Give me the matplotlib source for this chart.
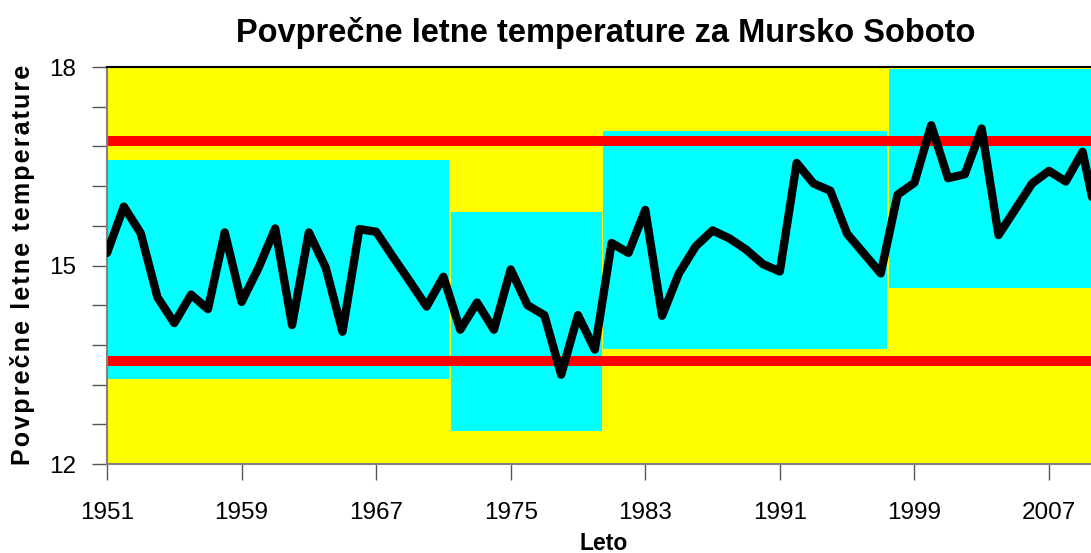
import matplotlib
matplotlib.use("Agg")
import matplotlib.pyplot as plt
from matplotlib.patches import Rectangle

plt.rcParams['font.family'] = ['Liberation Sans', 'DejaVu Sans']

# letne povprečne temperature (odčitano s slike)
years = list(range(1951, 2011))
temps = [15.19, 15.89, 15.49, 14.52, 14.13, 14.56, 14.34, 15.50, 14.45, 14.96,
         15.56, 14.10, 15.50, 14.97, 14.00, 15.55, 15.51, 15.13, 14.76, 14.38,
         14.83, 14.03, 14.44, 14.03, 14.94, 14.40, 14.25, 13.35, 14.25, 13.73,
         15.34, 15.19, 15.84, 14.24, 14.88, 15.29, 15.53, 15.41, 15.24, 15.02,
         14.91, 16.55, 16.24, 16.13, 15.48, 15.18, 14.88, 16.07, 16.25, 17.12,
         16.32, 16.38, 17.07, 15.46, 15.85, 16.24, 16.43, 16.27, 16.72, 15.50]

# obdobja (modri pravokotniki)
period_start = [1951.0, 1971.43, 1980.5, 1997.5]
period_end = [1971.33, 1980.41, 1997.4, 2010.0]
period_low = [13.28, 12.50, 13.74, 14.66]
period_high = [16.60, 15.81, 17.03, 17.97]

# meji (rdeči črti)
limits = [16.88, 13.56]

xtick_years = [1951, 1959, 1967, 1975, 1983, 1991, 1999, 2007]

fig = plt.figure(figsize=(10.91, 5.53), dpi=100)
ax = fig.add_axes([107 / 1091, 89 / 553, 984 / 1091, 397 / 553])
ax.set_facecolor('#FFFF00')

for x0, x1, lo, hi in zip(period_start, period_end, period_low, period_high):
    ax.add_patch(Rectangle((x0, lo), x1 - x0, hi - lo, facecolor='#00FFFF',
                           edgecolor='none', zorder=1))

for y in limits:
    ax.axhline(y, color='#FF0000', lw=7.2, zorder=2)

ax.plot(years, temps, color='black', lw=6, solid_joinstyle='round',
        solid_capstyle='round', zorder=3)

ax.set_xlim(1951, 2009.5)
ax.set_ylim(12, 18)

yt = [12 + 0.6 * i for i in range(11)]
ax.set_yticks(yt)
ax.set_yticklabels(['12' if abs(v - 12) < 1e-6 else '15' if abs(v - 15) < 1e-6
                    else '18' if abs(v - 18) < 1e-6 else '' for v in yt])
ax.set_xticks(xtick_years)
ax.set_xticklabels([str(y) for y in xtick_years])

ax.tick_params(axis='y', direction='out', length=11, width=1, color='#555555',
               labelsize=17.5, pad=11)
ax.tick_params(axis='x', direction='out', length=11.5, width=1, color='#555555',
               labelsize=17.5, pad=16)

for s in ['left', 'bottom']:
    ax.spines[s].set_color('#808080')
    ax.spines[s].set_linewidth(1.5)
ax.spines['top'].set_color('black')
ax.spines['top'].set_linewidth(1.5)
ax.spines['right'].set_visible(False)

fig.text(0.555, 0.94, 'Povprečne letne temperature za Mursko Soboto',
         ha='center', va='center', fontsize=23.5, fontweight='bold')
fig.text(0.553, (553 - 543) / 553, 'Leto', ha='center', va='center',
         fontsize=16.5, fontweight='bold')
# rahlo razmaknjene črke kot v izvirniku
ylab = '\u200a'.join('Povprečne letne temperature')
fig.text(23 / 1091, (553 - 265) / 553, ylab,
         rotation=90, ha='center', va='center', fontsize=18, fontweight='bold')

fig.savefig('out.png', dpi=100)
